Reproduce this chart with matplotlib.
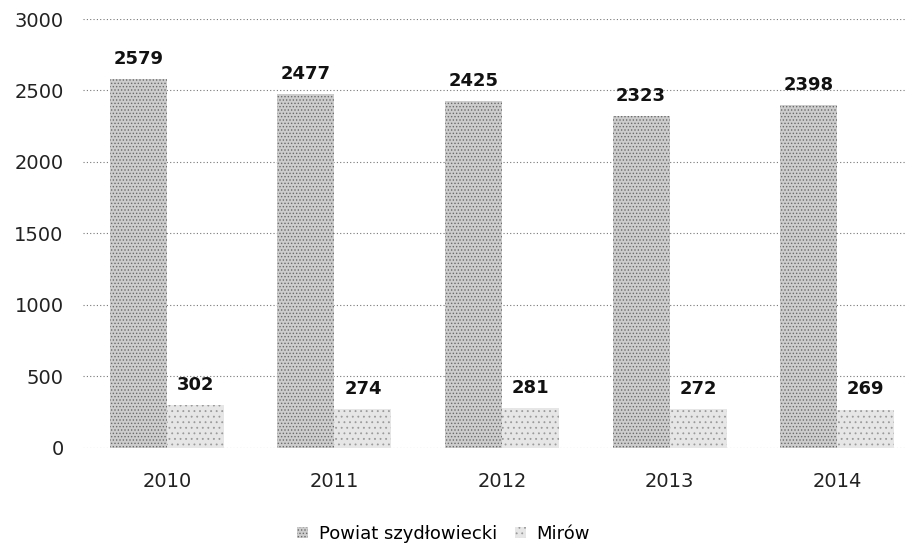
import matplotlib.pyplot as plt
import numpy as np

plt.rcParams['font.family'] = ['DejaVu Sans']
plt.rcParams['hatch.linewidth'] = 0.6

years = ['2010', '2011', '2012', '2013', '2014']
powiat = [2579, 2477, 2425, 2323, 2398]
mirow = [302, 274, 281, 272, 269]
series_names = ['Powiat szydłowiecki', 'Mirów']

fig = plt.figure(figsize=(9.05, 5.46), dpi=100)
# plot area runs past the right edge, like the cropped scan
ax = fig.add_axes([0.0917, 0.1795, 0.926, 0.7857])

x = np.arange(len(years))
w = 0.34
b1 = ax.bar(x - w / 2, powiat, w, color='#cdcdcd', edgecolor='#6a6a6a',
            hatch='.....', linewidth=0, label=series_names[0], zorder=2)
b2 = ax.bar(x + w / 2, mirow, w, color='#e6e6e6', edgecolor='#9a9a9a',
            hatch='...', linewidth=0, label=series_names[1], zorder=2)

for bars, vals in ((b1, powiat), (b2, mirow)):
    for r, v in zip(bars, vals):
        ax.annotate(str(v), (r.get_x() + r.get_width() / 2, v),
                    xytext=(0, 8), textcoords='offset points',
                    ha='center', va='bottom', fontsize=13, fontweight='bold',
                    color='#111111')

ax.set_ylim(0, 3000)
ax.set_xlim(-0.5, len(years) - 0.5)
ax.set_yticks(np.arange(0, 3001, 500))
ax.set_xticks(x)
ax.set_xticklabels(years)
ax.yaxis.grid(True, linestyle=(0, (1, 2)), color='#777777', linewidth=0.8, zorder=0)
ax.tick_params(axis='both', length=0, labelsize=14, colors='#222222')
ax.tick_params(axis='y', pad=14)
ax.tick_params(axis='x', pad=17)
for s in ax.spines.values():
    s.set_visible(False)

fig.legend(handles=[b1, b2], labels=series_names, loc='lower center',
           bbox_to_anchor=(0.49, -0.024), ncol=2, frameon=False, fontsize=13,
           handlelength=0.6, handleheight=0.6, columnspacing=1.0, handletextpad=0.6)

fig.savefig('out.png', dpi=100)
